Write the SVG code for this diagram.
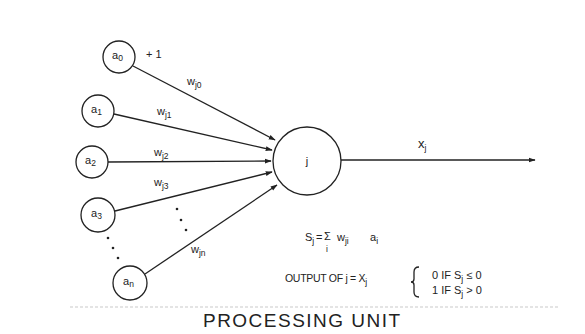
<svg xmlns="http://www.w3.org/2000/svg" width="585" height="334" viewBox="0 0 585 334">
<style>
.nd{fill:#fff;stroke:#222;stroke-width:1.3}
.ed{stroke:#222;stroke-width:1.3;fill:none}
.t{font-family:"Liberation Sans",Arial,sans-serif;fill:#222;font-size:11px}
.s{font-size:8.5px}
</style>
<defs>
<marker id="ah" viewBox="0 0 10 10" refX="9" refY="5" markerWidth="7" markerHeight="7" orient="auto" markerUnits="userSpaceOnUse">
<path d="M0,1.5 L10,5 L0,8.5 z" fill="#222"/>
</marker>
</defs>
<rect width="585" height="334" fill="#fff"/>
<g id="connectors">
<line class="ed" x1="133" y1="66" x2="275" y2="140" marker-end="url(#ah)"/>
<line class="ed" x1="114" y1="114" x2="272" y2="150" marker-end="url(#ah)"/>
<line class="ed" x1="108" y1="162" x2="271" y2="161" marker-end="url(#ah)"/>
<line class="ed" x1="115" y1="211" x2="272" y2="172" marker-end="url(#ah)"/>
<line class="ed" x1="145" y1="274" x2="277" y2="185" marker-end="url(#ah)"/>
<line class="ed" x1="341" y1="160" x2="535" y2="160" marker-end="url(#ah)"/>
<text class="t" x="187" y="85">w<tspan class="s" dy="3">j0</tspan></text>
<text class="t" x="157" y="115">w<tspan class="s" dy="3">j1</tspan></text>
<text class="t" x="154" y="156">w<tspan class="s" dy="3">j2</tspan></text>
<text class="t" x="154" y="186">w<tspan class="s" dy="3">j3</tspan></text>
<text class="t" x="191" y="253">w<tspan class="s" dy="3">jn</tspan></text>
<text class="t" x="418" y="148" style="font-size:13px">x<tspan class="s" dy="3">j</tspan></text>
</g>
<g id="node-a0"><circle class="nd" cx="119" cy="57" r="16"/><text class="t" x="112" y="59">a<tspan class="s" dy="2">0</tspan></text><text class="t" x="146" y="58">+ 1</text></g>
<g id="node-a1"><circle class="nd" cx="98" cy="111" r="16"/><text class="t" x="91" y="113">a<tspan class="s" dy="2">1</tspan></text></g>
<g id="node-a2"><circle class="nd" cx="92" cy="162" r="16"/><text class="t" x="85" y="164">a<tspan class="s" dy="2">2</tspan></text></g>
<g id="node-a3"><circle class="nd" cx="98" cy="215" r="17"/><text class="t" x="91" y="217">a<tspan class="s" dy="2">3</tspan></text></g>
<g id="node-an"><circle class="nd" cx="130" cy="283" r="17"/><text class="t" x="123" y="285">a<tspan class="s" dy="2">n</tspan></text></g>
<g id="node-j"><circle class="nd" cx="307" cy="161" r="34"/><text class="t" x="307" y="165" text-anchor="middle">j</text></g>
<g id="dots" fill="#222">
<circle cx="177" cy="209" r="1.3"/><circle cx="181" cy="220" r="1.3"/><circle cx="186" cy="230" r="1.3"/>
<circle cx="108" cy="238" r="1.3"/><circle cx="113" cy="248" r="1.3"/><circle cx="118" cy="258" r="1.3"/>
</g>
<g id="formula">
<text class="t" x="305" y="241">S<tspan class="s" dy="3">j</tspan></text>
<text class="t" x="316" y="241">=</text>
<text class="t" x="324" y="240">Σ</text>
<text class="t s" x="326" y="252">i</text>
<text class="t" x="337" y="241">w<tspan class="s" dy="3">ji</tspan></text>
<text class="t" x="370" y="241">a<tspan class="s" dy="3">i</tspan></text>
<text class="t" x="285" y="282" style="font-size:10.5px;letter-spacing:-0.3px">OUTPUT OF j = X<tspan class="s" dy="3">j</tspan></text>
<path class="ed" d="M419,267 Q414,267 414,272 L414,279 Q414,282 411,282 Q414,282 414,285 L414,292 Q414,297 419,297"/>
<text class="t" x="432" y="279">0  IF  S<tspan class="s" dy="3">j</tspan><tspan dy="-3"> ≤ 0</tspan></text>
<text class="t" x="432" y="294">1  IF  S<tspan class="s" dy="3">j</tspan><tspan dy="-3"> &gt; 0</tspan></text>
</g>
<line x1="70" y1="307" x2="560" y2="307" stroke="#bbb" stroke-width="0.8" stroke-dasharray="3,2"/>
<text class="t" x="203" y="327" style="font-size:19px" textLength="197" lengthAdjust="spacing">PROCESSING UNIT</text>
</svg>
